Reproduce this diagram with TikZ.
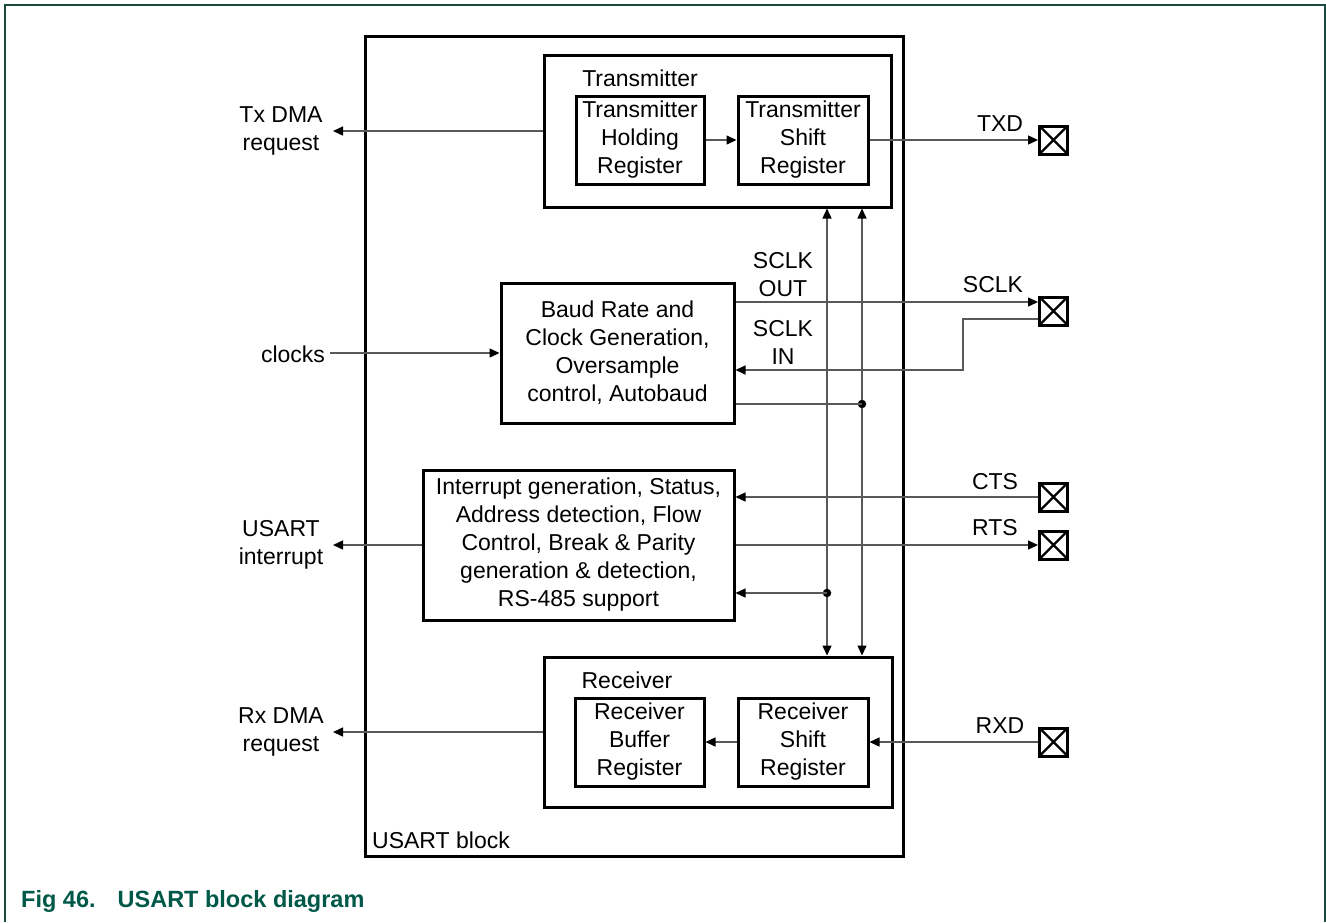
\documentclass[tikz,border=0pt]{standalone}
\usepackage{fontspec}
\setmainfont{Liberation Sans}
\usetikzlibrary{arrows.meta,calc}
\definecolor{nxpgreen}{RGB}{0,88,72}
\definecolor{framec}{RGB}{25,75,65}
\begin{document}
\begin{tikzpicture}[x=1pt,y=-1pt,
  txt/.style={font=\fontsize{23}{28}\selectfont},
  box/.style={draw,line width=3pt,inner sep=0pt,align=center,txt},
  lbl/.style={inner sep=0pt,align=center,txt},
  conn/.style={draw=black!65,line width=1.4pt},
  tip/.style={},
  arr/.style={conn,-{Triangle[length=10pt,width=9pt,color=black]}},
  darr/.style={conn,{Triangle[length=10pt,width=9pt,color=black]}-{Triangle[length=10pt,width=9pt,color=black]}},
  pin/.style={draw,line width=3pt,minimum size=28pt,inner sep=0pt,
    path picture={\draw[line width=2.4pt] (path picture bounding box.north west)--(path picture bounding box.south east)
      (path picture bounding box.north east)--(path picture bounding box.south west);}},
  jdot/.style={circle,fill=black,inner sep=0pt,minimum size=8.5pt}]
\useasboundingbox (0,0) rectangle (1326,922);
% outer frame
\draw[framec,line width=1.5pt] (5,922) -- (5,5) -- (1325,5) -- (1325,922);
% blocks
\node[box,minimum width=538pt,minimum height=820pt] (usart) at (634,446) {};
\node[lbl,anchor=west] (usartlbl) at (372,840) {USART block};
\node[box,minimum width=347pt,minimum height=152pt] (tx) at (717.5,131) {};
\node[lbl] (txlbl) at (640,78) {Transmitter};
\node[box,minimum width=128pt,minimum height=88pt] (thr) at (640,140) {Transmitter\\Holding\\Register};
\node[box,minimum width=130pt,minimum height=88pt] (tsr) at (803,140) {Transmitter\\Shift\\Register};
\node[box,minimum width=233pt,minimum height=140pt] (baud) at (617.5,353) {Baud Rate and\\Clock Generation,\\Oversample\\control, Autobaud};
\node[box,minimum width=311pt,minimum height=150pt] (intr) at (578.5,545) {Interrupt generation, Status,\\Address detection, Flow\\Control, Break \& Parity\\generation \& detection,\\RS-485 support};
\node[box,minimum width=348pt,minimum height=150pt] (rx) at (718,732) {};
\node[lbl] (rxlbl) at (627,680) {Receiver};
\node[box,minimum width=129pt,minimum height=88pt] (rbr) at (639.5,742) {Receiver\\Buffer\\Register};
\node[box,minimum width=130pt,minimum height=88pt] (rsr) at (803,742) {Receiver\\Shift\\Register};
% pins
\node[pin] (txdpin) at (1053.5,140) {};
\node[pin] (sclkpin) at (1053.5,311) {};
\node[pin] (ctspin) at (1053.5,497) {};
\node[pin] (rtspin) at (1053.5,545) {};
\node[pin] (rxdpin) at (1053.5,742) {};
% outside labels
\node[lbl] (txdma) at (281,131) {Tx DMA\\request};
\node[lbl] (clocks) at (293,354) {clocks};
\node[lbl] (uint) at (281,545) {USART\\interrupt};
\node[lbl] (rxdma) at (281,732) {Rx DMA\\request};
\node[lbl] (txdlbl) at (1000,124) {TXD};
\node[lbl] (sclklbl) at (993,285) {SCLK};
\node[lbl] (ctslbl) at (995,482) {CTS};
\node[lbl] (rtslbl) at (995,528) {RTS};
\node[lbl] (rxdlbl) at (1000,726) {RXD};
\node[lbl] (sclkout) at (783,275) {SCLK\\OUT};
\node[lbl] (sclkin) at (783,342) {SCLK\\IN};
% free-end coordinates
\coordinate (txdmaend) at (333,131);
\coordinate (uintend) at (333,545);
\coordinate (rxdmaend) at (333,732);
\coordinate (clkstart) at (330,353);
\coordinate (busA) at (827,0);
\coordinate (busB) at (862,0);
\coordinate (jog) at (963,0);
% connectors
\draw[arr] (tx.west) -- (txdmaend);
\draw[arr] (thr.east) -- (tsr.west);
\draw[arr] (tsr.east) -- (txdpin.west);
\draw[arr] (clkstart) -- (baud.west);
\draw[arr] (baud.east |- 0,302) -- (sclkpin.west |- 0,302);
\draw[arr] (sclkpin.west |- 0,319) -- (jog |- 0,319) -- (jog |- 0,370) -- (baud.east |- 0,370);
\draw[darr] (tx.south -| busA) -- (rx.north -| busA);
\draw[darr] (tx.south -| busB) -- (rx.north -| busB);
\node[jdot] (dotB) at (busB |- 0,404) {};
\node[jdot] (dotA) at (busA |- 0,593) {};
\draw[conn] (baud.east |- dotB) -- (dotB.center);
\draw[arr] (dotA.center) -- (intr.east |- dotA);
\draw[arr] (ctspin.west) -- (intr.east |- ctspin.west);
\draw[arr] (intr.east |- rtspin.west) -- (rtspin.west);
\draw[arr] (intr.west) -- (uintend);
\draw[arr] (rxdpin.west) -- (rsr.east);
\draw[arr] (rsr.west) -- (rbr.east);
\draw[arr] (rx.west) -- (rxdmaend);
% caption
\node[anchor=west,inner sep=0pt,text=nxpgreen,font=\bfseries\fontsize{23.5}{27}\selectfont] (cap) at (21,901) {Fig 46.\hspace{22pt}USART block diagram};
\end{tikzpicture}
\end{document}
